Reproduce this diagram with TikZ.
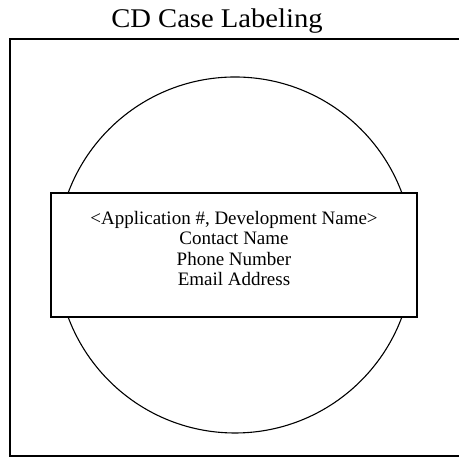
\documentclass[tikz,border=0pt]{standalone}
\usepackage{fontspec}
\setmainfont{Liberation Serif}
\begin{document}
\begin{tikzpicture}[x=1pt,y=1pt,
  frame/.style={draw=black,line width=1.5pt},
  disc/.style={draw=black,line width=1.1pt},
  labelbox/.style={draw=black,line width=1.4pt,fill=white},
  bodytext/.style={font=\fontsize{19}{20.5}\selectfont,align=center,inner sep=0pt}]
\useasboundingbox (0,0) rectangle (459,457);
\clip (0,0) rectangle (459,457);
\node[font=\fontsize{27}{30}\selectfont,anchor=base,inner sep=0pt] (title) at (217,429) {\scalebox{1.06}[1]{CD Case Labeling}};
\draw[frame] (10,418) rectangle (470,1);
\node[disc,circle,minimum size=356pt,inner sep=0pt] (cd) at (235,202) {};
\node[labelbox,minimum width=366pt,minimum height=124pt,inner sep=0pt] (lab) at (234,202) {};
\node[bodytext,anchor=base] (txt) at (234,171) {<Application \#, Development Name>\\Contact Name\\Phone Number\\Email Address};
\end{tikzpicture}
\end{document}
